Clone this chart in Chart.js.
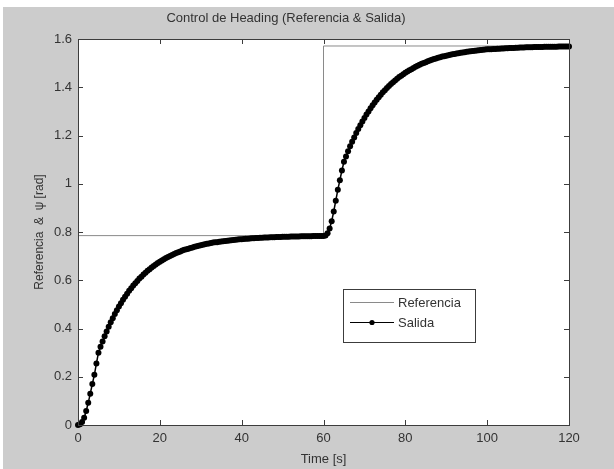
<!DOCTYPE html>
<html>
<head>
<meta charset="utf-8">
<script src="https://cdn.jsdelivr.net/npm/chart.js@4.4.1/dist/chart.umd.min.js"></script>
<style>
  html, body { margin: 0; padding: 0; background: #fff; }
  #wrap { width: 614px; height: 469px; }
</style>
</head>
<body>
<div id="wrap"><canvas id="headingChart" width="614" height="469"></canvas></div>
<script>
// sample time of the simulation [s]
var dt = 0.5;

// Salida (psi), every 0.5 s, 0..120 s
var salida = [
  0, 0.003, 0.012, 0.030, 0.058, 0.092, 0.130, 0.170, 0.208, 0.255,
  0.300, 0.324, 0.346, 0.368, 0.388, 0.407, 0.426, 0.443, 0.460, 0.476,
  0.491, 0.505, 0.519, 0.532, 0.544, 0.556, 0.567, 0.578, 0.588, 0.597,
  0.607, 0.615, 0.624, 0.631, 0.639, 0.646, 0.653, 0.659, 0.665, 0.671,
  0.677, 0.682, 0.687, 0.692, 0.696, 0.701, 0.705, 0.709, 0.713, 0.716,
  0.719, 0.723, 0.726, 0.729, 0.731, 0.734, 0.736, 0.739, 0.741, 0.743,
  0.745, 0.747, 0.749, 0.751, 0.752, 0.754, 0.756, 0.757, 0.758, 0.760,
  0.761, 0.762, 0.763, 0.764, 0.765, 0.766, 0.767, 0.768, 0.769, 0.770,
  0.770, 0.771, 0.772, 0.772, 0.773, 0.774, 0.774, 0.775, 0.775, 0.776,
  0.776, 0.777, 0.777, 0.777, 0.778, 0.778, 0.778, 0.779, 0.779, 0.779,
  0.780, 0.780, 0.780, 0.780, 0.781, 0.781, 0.781, 0.781, 0.781, 0.782,
  0.782, 0.782, 0.782, 0.782, 0.782, 0.783, 0.783, 0.783, 0.783, 0.783,
  0.783, 0.785, 0.795, 0.815, 0.845, 0.885, 0.930, 0.975, 1.015, 1.055,
  1.091, 1.113, 1.135, 1.155, 1.174, 1.192, 1.210, 1.227, 1.243, 1.258,
  1.273, 1.287, 1.300, 1.313, 1.325, 1.337, 1.348, 1.359, 1.369, 1.379,
  1.388, 1.397, 1.405, 1.413, 1.421, 1.428, 1.435, 1.442, 1.448, 1.454,
  1.460, 1.465, 1.470, 1.475, 1.480, 1.485, 1.489, 1.493, 1.497, 1.501,
  1.504, 1.508, 1.511, 1.514, 1.517, 1.519, 1.522, 1.524, 1.527, 1.529,
  1.531, 1.533, 1.535, 1.537, 1.538, 1.540, 1.541, 1.543, 1.544, 1.545,
  1.547, 1.548, 1.549, 1.550, 1.551, 1.552, 1.553, 1.554, 1.555, 1.556,
  1.557, 1.557, 1.558, 1.559, 1.559, 1.560, 1.560, 1.561, 1.561, 1.562,
  1.562, 1.563, 1.563, 1.563, 1.564, 1.564, 1.565, 1.565, 1.565, 1.566,
  1.566, 1.566, 1.566, 1.567, 1.567, 1.567, 1.567, 1.567, 1.568, 1.568,
  1.568, 1.568, 1.568, 1.568, 1.568, 1.569, 1.569, 1.569, 1.569, 1.569,
  1.569
];

// Referencia: step pi/4 -> pi/2 at t = 60 s
var refTime = [0, 60, 60, 120];
var referencia = [0.785, 0.785, 1.571, 1.571];

var xTicks = [0, 20, 40, 60, 80, 100, 120];
var xTickLabels = ["0", "20", "40", "60", "80", "100", "120"];
var yTicks = [0, 0.2, 0.4, 0.6, 0.8, 1, 1.2, 1.4, 1.6];
var yTickLabels = ["0", "0.2", "0.4", "0.6", "0.8", "1", "1.2", "1.4", "1.6"];

var FONT = "'Liberation Sans', Arial, sans-serif";
var TXT = "#333";
var AXIS = "#3c3c3c";

var salidaPts = salida.map(function (v, i) { return { x: i * dt, y: v }; });
var refPts = refTime.map(function (t, i) { return { x: t, y: referencia[i] }; });

// gray figure, white axes, box with inward ticks, legend
var matlabFrame = {
  id: "matlabFrame",
  beforeDraw: function (chart) {
    var c = chart.ctx, a = chart.chartArea;
    c.save();
    c.fillStyle = "#fff";
    c.fillRect(0, 0, chart.width, chart.height);
    c.fillStyle = "#cccccc";
    c.fillRect(3, 7, chart.width - 3, chart.height - 7);
    c.fillStyle = "#fff";
    c.fillRect(a.left, a.top, a.right - a.left, a.bottom - a.top);
    c.restore();
  },
  afterDatasetsDraw: function (chart) {
    var c = chart.ctx, a = chart.chartArea;
    var xs = chart.scales.x, ys = chart.scales.y;
    var tl = 5;
    c.save();
    c.strokeStyle = AXIS;
    c.lineWidth = 1;
    c.beginPath();
    xTicks.forEach(function (v) {
      var px = Math.round(xs.getPixelForValue(v)) + 0.5;
      c.moveTo(px, a.bottom); c.lineTo(px, a.bottom - tl);
      c.moveTo(px, a.top); c.lineTo(px, a.top + tl);
    });
    yTicks.forEach(function (v) {
      var py = Math.round(ys.getPixelForValue(v)) + 0.5;
      c.moveTo(a.left, py); c.lineTo(a.left + tl, py);
      c.moveTo(a.right, py); c.lineTo(a.right - tl, py);
    });
    c.stroke();
    c.strokeRect(Math.round(a.left) + 0.5, Math.round(a.top) + 0.5,
                 Math.round(a.right - a.left), Math.round(a.bottom - a.top));

    // legend box
    var lx = 343, ly = 289, lw = 132, lh = 53;
    c.fillStyle = "#fff";
    c.fillRect(lx, ly, lw, lh);
    c.strokeRect(lx + 0.5, ly + 0.5, lw, lh);
    var ds = chart.data.datasets;
    var rows = [302, 322];
    c.font = "13px " + FONT;
    c.textBaseline = "middle";
    c.textAlign = "left";
    ds.forEach(function (d, i) {
      var y = rows[i] + 0.5;
      c.strokeStyle = d.borderColor;
      c.lineWidth = 1;
      c.beginPath();
      c.moveTo(350, y); c.lineTo(394, y);
      c.stroke();
      if (d.pointRadius > 0) {
        c.fillStyle = d.pointBackgroundColor;
        c.beginPath();
        c.arc(372, y, 2.6, 0, Math.PI * 2);
        c.fill();
      }
      c.fillStyle = TXT;
      c.fillText(d.label, 398, rows[i] + 1);
    });
    c.restore();
  }
};

var ctx = document.getElementById("headingChart").getContext("2d");
var myChart = new Chart(ctx, {
  type: "line",
  data: {
    datasets: [
      {
        label: "Referencia",
        data: refPts,
        borderColor: "#8a8a8a",
        borderWidth: 1,
        pointRadius: 0,
        order: 1,
      },
      {
        label: "Salida",
        data: salidaPts,
        borderColor: "#000",
        borderWidth: 1.5,
        pointRadius: 3,
        pointBorderWidth: 0,
        pointBackgroundColor: "#000",
        order: 0,
        clip: 4,
      },
    ],
  },
  options: {
    responsive: false,
    animation: false,
    devicePixelRatio: 1,
    layout: { padding: { left: 3, top: 7, right: 45, bottom: 0 } },
    plugins: {
      legend: { display: false },
      tooltip: { enabled: false },
      title: {
        display: true,
        text: "Control de Heading (Referencia & Salida)",
        color: TXT,
        font: { family: FONT, size: 13, weight: "normal" },
        padding: { top: 4, bottom: 12.4 },
      },
    },
    scales: {
      x: {
        type: "linear",
        min: 0,
        max: 120,
        grid: { display: false, drawTicks: false },
        border: { display: false },
        afterBuildTicks: function (s) {
          s.ticks = xTicks.map(function (v) { return { value: v }; });
        },
        afterFit: function (s) { s.height = 44; },
        ticks: {
          color: TXT,
          padding: 6,
          font: { family: FONT, size: 13 },
          maxRotation: 0,
          callback: function (v, i) { return xTickLabels[i]; },
        },
        title: {
          display: true,
          text: "Time [s]",
          color: TXT,
          font: { family: FONT, size: 13 },
          padding: { top: 0, bottom: 2 },
        },
      },
      y: {
        type: "linear",
        min: 0,
        max: 1.6,
        grid: { display: false, drawTicks: false },
        border: { display: false },
        afterBuildTicks: function (s) {
          s.ticks = yTicks.map(function (v) { return { value: v }; });
        },
        afterFit: function (s) { s.width = 75; },
        ticks: {
          color: TXT,
          padding: 6,
          font: { family: FONT, size: 13 },
          callback: function (v, i) { return yTickLabels[i]; },
        },
        title: {
          display: true,
          text: "Referencia  &  \u03c8 [rad]",
          color: TXT,
          font: { family: FONT, size: 12 },
          padding: { top: 29, bottom: 0 },
        },
      },
    },
  },
  plugins: [matlabFrame],
});
</script>
</body>
</html>
